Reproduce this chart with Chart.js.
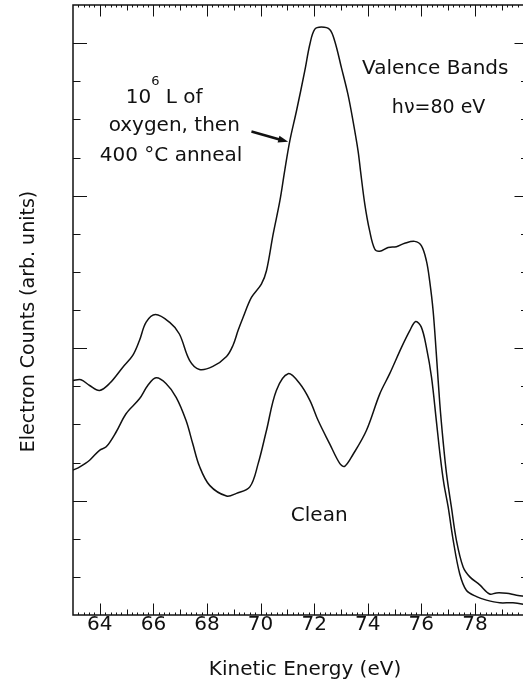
<!DOCTYPE html>
<html><head><meta charset="utf-8">
<script src="https://cdn.jsdelivr.net/npm/chart.js@4.4.1/dist/chart.umd.min.js"></script>
<style>html,body{margin:0;padding:0;background:#fff;overflow:hidden;width:523px;height:682px;} canvas{display:block;}</style>
</head><body>
<canvas id="c" width="529" height="682"></canvas>
<script>
// ---- data ----
const energyOxygen = [63.00,63.30,63.62,63.99,64.36,64.86,65.23,65.48,65.73,66.08,66.60,66.97,67.35,67.72,68.22,68.73,68.97,69.16,69.35,69.66,70.03,70.22,70.47,70.72,70.90,71.09,71.34,71.65,71.84,72.02,72.27,72.58,72.77,73.02,73.26,73.45,73.64,73.73,73.89,74.07,74.26,74.45,74.76,75.07,75.38,75.75,76.00,76.19,76.31,76.44,76.56,76.69,76.81,76.94,77.12,77.31,77.56,77.81,78.18,78.55,78.80,79.18,79.55,80.00];
const countsOxygen = [6.15,6.17,6.02,5.89,6.07,6.50,6.81,7.20,7.68,7.88,7.68,7.37,6.68,6.44,6.52,6.78,7.07,7.46,7.81,8.33,8.68,9.03,9.99,10.86,11.65,12.43,13.22,14.27,14.97,15.36,15.42,15.36,15.05,14.35,13.66,12.96,12.17,11.65,10.78,10.08,9.60,9.54,9.64,9.66,9.75,9.80,9.69,9.29,8.77,7.98,6.85,5.54,4.58,3.71,2.84,1.96,1.26,1.00,0.79,0.55,0.58,0.57,0.52,0.48];
const energyClean = [63.00,63.24,63.62,63.99,64.24,64.61,64.98,65.48,65.79,66.10,66.47,66.85,67.22,67.47,67.72,68.10,68.73,69.10,69.60,69.91,70.22,70.59,71.03,71.46,71.84,72.15,72.58,72.96,73.14,73.45,73.95,74.45,74.82,75.26,75.57,75.79,76.00,76.19,76.38,76.56,76.70,76.84,77.00,77.19,77.43,77.68,78.06,78.43,78.93,79.42,80.00];
const countsClean = [3.80,3.88,4.06,4.32,4.41,4.80,5.28,5.67,6.02,6.22,6.07,5.71,5.10,4.49,3.90,3.40,3.12,3.19,3.36,3.97,4.84,5.89,6.33,6.07,5.63,5.10,4.49,3.97,3.90,4.21,4.84,5.80,6.33,7.02,7.46,7.70,7.55,7.02,6.24,5.10,4.20,3.45,2.84,1.96,1.09,0.65,0.48,0.39,0.32,0.32,0.26];
const xTickLabels = [64,66,68,70,72,74,76,78];
const xAxisTitle = 'Kinetic Energy (eV)';
const yAxisTitle = 'Electron Counts (arb. units)';
const seriesNames = ['10^6 L of oxygen, then 400 °C anneal','Clean'];

const INK = '#111';
const FONT = '"DejaVu Sans", "Liberation Sans", Arial, sans-serif';

const framePlugin = {
  id: 'frame',
  afterDraw(chart) {
    const ctx = chart.ctx;
    const {left, right, top, bottom} = chart.chartArea;
    const xs = chart.scales.x, ys = chart.scales.y;
    ctx.save();
    ctx.strokeStyle = INK;
    ctx.lineWidth = 1.5;
    ctx.strokeRect(left, top, right - left, bottom - top);
    ctx.lineWidth = 1;
    for (let k = 316; k < 400; k++) {
      const v = k / 5;
      const px = Math.round(xs.getPixelForValue(v)) + 0.5;
      const len = (k % 10 === 0) ? 11.5 : (k % 5 === 0 ? 5.5 : 2.5);
      ctx.beginPath();
      ctx.moveTo(px, bottom); ctx.lineTo(px, bottom - len);
      ctx.moveTo(px, top); ctx.lineTo(px, top + len);
      ctx.stroke();
    }
    for (let v = 1; v < 16; v++) {
      const py = Math.round(ys.getPixelForValue(v)) + 0.5;
      const len = (v % 4 === 3) ? 14 : 7.5;
      ctx.beginPath();
      ctx.moveTo(left, py); ctx.lineTo(left + len, py);
      ctx.moveTo(right, py); ctx.lineTo(right - len, py);
      ctx.stroke();
    }
    ctx.fillStyle = INK;
    ctx.textBaseline = 'alphabetic';
    ctx.textAlign = 'left';
    const P = (x, y) => [xs.getPixelForValue(x), ys.getPixelForValue(y)];
    ctx.font = '20px ' + FONT;
    let [ax, ay] = P(64.97, 13.42);
    ctx.fillText('10', ax, ay);
    let w = ctx.measureText('10').width;
    ctx.font = '13px ' + FONT;
    ctx.fillText('6', ax + w, ay - 18);
    let w2 = ctx.measureText('6').width;
    ctx.font = '20px ' + FONT;
    ctx.fillText(' L of', ax + w + w2, ay);
    [ax, ay] = P(64.33, 12.70);
    ctx.fillText('oxygen, then', ax, ay);
    [ax, ay] = P(64.0, 11.92);
    ctx.fillText('400 °C anneal', ax, ay);
    const [t1x, t1y] = P(69.66, 12.68);
    const [h1x, h1y] = P(71.03, 12.41);
    ctx.lineWidth = 2.6;
    ctx.beginPath(); ctx.moveTo(t1x, t1y);
    const ang = Math.atan2(h1y - t1y, h1x - t1x);
    ctx.lineTo(h1x - 8 * Math.cos(ang), h1y - 8 * Math.sin(ang)); ctx.stroke();
    ctx.beginPath();
    ctx.moveTo(h1x, h1y);
    ctx.lineTo(h1x - 10 * Math.cos(ang) + 3.5 * Math.sin(ang), h1y - 10 * Math.sin(ang) - 3.5 * Math.cos(ang));
    ctx.lineTo(h1x - 10 * Math.cos(ang) - 3.5 * Math.sin(ang), h1y - 10 * Math.sin(ang) + 3.5 * Math.cos(ang));
    ctx.closePath(); ctx.fill();
    ctx.font = '20px ' + FONT;
    [ax, ay] = P(73.79, 14.20);
    ctx.fillText('Valence Bands', ax, ay);
    ctx.font = '19px ' + FONT;
    [ax, ay] = P(74.90, 13.17);
    ctx.fillText('h\u03BD=80 eV', ax, ay);
    ctx.font = '20px ' + FONT;
    [ax, ay] = P(71.13, 2.47);
    ctx.fillText('Clean', ax, ay);
    ctx.textAlign = 'center';
    ctx.font = '20px ' + FONT;
    ctx.fillText(xAxisTitle, 305, 675);
    ctx.save();
    ctx.translate(33.5, 321.5);
    ctx.rotate(-Math.PI / 2);
    ctx.font = '19px ' + FONT;
    ctx.fillText(yAxisTitle, 0, 0);
    ctx.restore();
    ctx.restore();
  }
};

const toPts = (xsArr, ysArr) => xsArr.map((x, i) => ({x: x, y: ysArr[i]}));

new Chart(document.getElementById('c').getContext('2d'), {
  type: 'line',
  data: {
    datasets: [
      {label: seriesNames[0], data: toPts(energyOxygen, countsOxygen), borderColor: INK, borderWidth: 1.5,
       pointRadius: 0, fill: false, tension: 0.35},
      {label: seriesNames[1], data: toPts(energyClean, countsClean), borderColor: INK, borderWidth: 1.5,
       pointRadius: 0, fill: false, tension: 0.35}
    ]
  },
  options: {
    responsive: false, animation: false, devicePixelRatio: 1,
    layout: {padding: {left: 0, right: 0.5, top: 5, bottom: 0}},
    plugins: {legend: {display: false}, tooltip: {enabled: false}},
    scales: {
      x: {
        type: 'linear', min: 63, max: 80,
        grid: {display: false, drawTicks: false}, border: {display: false},
        afterBuildTicks: s => { s.ticks = xTickLabels.map(v => ({value: v})); },
        afterFit: s => { s.height = 67; },
        ticks: {font: {family: FONT, size: 20}, color: INK, padding: -2, maxRotation: 0, autoSkip: false,
                callback: v => String(v)}
      },
      y: {
        type: 'linear', min: 0, max: 16,
        grid: {display: false, drawTicks: false}, border: {display: false},
        ticks: {display: false},
        afterFit: s => { s.width = 73; }
      }
    }
  },
  plugins: [framePlugin]
});
</script>
</body></html>
